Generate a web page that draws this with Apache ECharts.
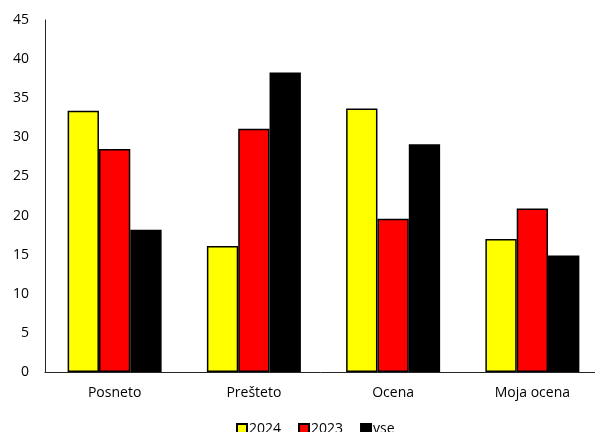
<!DOCTYPE html>
<html>
<head>
<meta charset="utf-8">
<script src="https://cdn.jsdelivr.net/npm/echarts@6/dist/echarts.min.js"></script>
<style>
  html, body { margin: 0; padding: 0; background: #fff; }
  #chart { width: 595px; height: 432px; }
</style>
</head>
<body>
<div id="chart"></div>
<script>
const categories = ['Posneto', 'Prešteto', 'Ocena', 'Moja ocena'];
const seriesNames = ['2024', '2023', 'vse'];
const values2024 = [33.4, 16.1, 33.7, 17.0];
const values2023 = [28.5, 31.1, 19.6, 20.9];
const valuesAll = [18.2, 38.3, 29.1, 14.9];
const seriesColors = ['#ffff00', '#ff0000', '#000000'];
const yMin = 0, yMax = 45, yStep = 5;

const chart = echarts.init(document.getElementById('chart'), null, { renderer: 'canvas' });
const font = 'Open Sans, Noto Sans, sans-serif';
const dataSets = [values2024, values2023, valuesAll];

chart.setOption({
  animation: false,
  backgroundColor: '#ffffff',
  grid: { left: 45, width: 557, top: 20, height: 352, outerBoundsMode: 'none', containLabel: false },
  legend: {
    bottom: -4,
    left: 236,
    padding: 0,
    itemWidth: 10,
    itemHeight: 10,
    itemGap: 17,
    icon: 'rect',
    textStyle: { fontFamily: font, fontSize: 14, color: '#000', padding: [0, 0, 0, -3] },
    data: seriesNames
  },
  xAxis: {
    type: 'category',
    data: categories,
    axisLine: { lineStyle: { color: '#262626', width: 1 } },
    axisTick: { show: false },
    axisLabel: { fontFamily: font, fontSize: 14, color: '#000', margin: 14 }
  },
  yAxis: {
    type: 'value',
    min: yMin,
    max: yMax,
    interval: yStep,
    splitLine: { show: false },
    axisLine: { show: true, lineStyle: { color: '#262626', width: 1 } },
    axisTick: { show: false },
    axisLabel: { fontFamily: font, fontSize: 14, color: '#000', margin: 16 }
  },
  series: seriesNames.map((name, i) => ({
    name: name,
    type: 'bar',
    data: dataSets[i],
    barGap: '0%',
    barCategoryGap: '32.5%',
    itemStyle: { color: seriesColors[i], borderColor: '#000', borderWidth: 1.5 }
  }))
});
</script>
</body>
</html>
